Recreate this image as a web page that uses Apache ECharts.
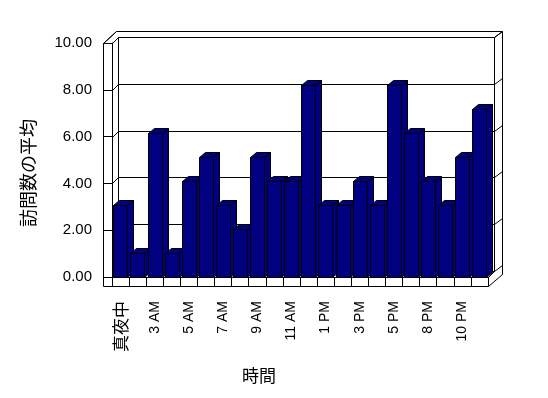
<!DOCTYPE html>
<html>
<head>
<meta charset="utf-8">
<script src="https://cdn.jsdelivr.net/npm/echarts@6/dist/echarts.min.js"></script>
<style>
  html, body { margin: 0; padding: 0; background: #fff; }
  #chart { width: 548px; height: 398px; }
</style>
</head>
<body>
<div id="chart"></div>
<script>
// hours that have data (1 AM and 7 PM are missing in the source)
const hours = ['真夜中', '2 AM', '3 AM', '4 AM', '5 AM', '6 AM', '7 AM', '8 AM', '9 AM', '10 AM', '11 AM', '正午',
  '1 PM', '2 PM', '3 PM', '4 PM', '5 PM', '6 PM', '8 PM', '9 PM', '10 PM', '11 PM'];
const avgVisits = [3, 1, 6, 1, 4, 5, 3, 2, 5, 4, 4, 8, 3, 3, 4, 3, 8, 6, 4, 3, 5, 7];
const yTicks = [0, 2, 4, 6, 8, 10];

// 3D look (pixels)
const DX = 6, DY = 6;     // back wall offset
const OX = 14, OY = 12;   // outer box offset
const SLAB = 9;           // wall / floor thickness
const BAR_DX = 6, BAR_DY = 5;
const BAR_COLOR = '#000080';
const LATIN = 'Liberation Sans';
const CJK = 'Noto Sans CJK JP';

const px = v => Math.round(v) + 0.5;
const lineStyle = { stroke: '#000', lineWidth: 1, fill: null };

function line(a, b) {
  return { type: 'line', shape: { x1: px(a[0]), y1: px(a[1]), x2: px(b[0]), y2: px(b[1]) }, style: lineStyle };
}

// box outline: walls and floor slab
function renderBox(params, api) {
  const cs = params.coordSys;
  const L = cs.x, T = cs.y, R = cs.x + cs.width, B = cs.y + cs.height, B2 = B + SLAB;
  const outer = [[L - SLAB, T], [L - SLAB + OX - 1, T - OY], [R + OX, T - OY], [R + OX, B2 - OY], [R, B2], [L - SLAB, B2]];
  return {
    type: 'group',
    children: [
      { type: 'polygon', shape: { points: outer.map(p => [px(p[0]), px(p[1])]) }, style: lineStyle },
      { type: 'rect', shape: { x: px(L + DX), y: px(T - DY), width: R - L, height: B - T }, style: lineStyle },
      line([L - SLAB, T], [L - SLAB + OX - 1, T - OY]),
      line([L, T], [L + DX, T - DY]),
      line([R + DX, T - DY], [R + OX, T - OY]),
      line([R, B], [R + DX, B - DY])
    ]
  };
}

// value grid lines on back wall + both side walls
function renderGridLine(params, api) {
  const cs = params.coordSys;
  const L = cs.x, R = cs.x + cs.width;
  const y = api.coord([0, api.value(1)])[1];
  return {
    type: 'group',
    children: [
      line([L + DX, y - DY], [R + DX, y - DY]),
      line([L, y], [L + DX, y - DY]),
      line([R + DX, y - DY], [R + OX, y - OY])
    ]
  };
}

function renderBar(params, api) {
  const i = api.value(0), v = api.value(1);
  const band = api.size([1, 0])[0];
  const base = api.coord([i, 0]);
  const top = api.coord([i, v]);
  const x0 = px(base[0] - band / 2 + band * 0.08);
  const w = Math.round(band * 0.82);
  const yb = px(base[1]), yt = px(top[1]);
  const style = { fill: BAR_COLOR, stroke: '#000', lineWidth: 1 };
  return {
    type: 'group',
    children: [
      { type: 'polygon', shape: { points: [[x0 + w, yt], [x0 + w + BAR_DX, yt - BAR_DY], [x0 + w + BAR_DX, yb - BAR_DY], [x0 + w, yb]] }, style: style },
      { type: 'polygon', shape: { points: [[x0, yt], [x0 + w, yt], [x0 + w + BAR_DX, yt - BAR_DY], [x0 + BAR_DX, yt - BAR_DY]] }, style: style },
      { type: 'rect', shape: { x: x0, y: yt, width: w, height: yb - yt }, style: style }
    ]
  };
}

const chart = echarts.init(document.getElementById('chart'));

const option = {
  backgroundColor: '#fff',
  animation: false,
  grid: [
    // front plane: axes, labels
    { left: 112, right: 60, top: 43, bottom: 121 },
    // bars reach a little higher (perspective)
    { left: 112, right: 60, top: 37, bottom: 121 }
  ],
  xAxis: [
    {
      type: 'category',
      gridIndex: 0,
      data: hours,
      axisLine: { show: true, lineStyle: { color: '#000', width: 1 } },
      axisTick: { show: true, interval: 0, length: SLAB, lineStyle: { color: '#000' } },
      axisLabel: {
        interval: 1,
        rotate: 90,
        margin: 24,
        color: '#000',
        fontFamily: LATIN,
        fontSize: 14,
        formatter: v => /[^\x00-\x7F]/.test(v) ? '{j|' + v + '}' : v,
        rich: { j: { fontFamily: CJK, fontSize: 17, color: '#000' } }
      },
      splitLine: { show: false }
    },
    {
      type: 'category',
      gridIndex: 1,
      data: hours,
      show: false
    }
  ],
  yAxis: [
    {
      type: 'value',
      gridIndex: 0,
      min: 0,
      max: 10,
      interval: 2,
      axisLine: { show: true, lineStyle: { color: '#000', width: 1 } },
      axisTick: { show: true, length: SLAB, lineStyle: { color: '#000' } },
      axisLabel: {
        margin: 20,
        color: '#000',
        fontFamily: LATIN,
        fontSize: 15,
        formatter: v => v.toFixed(2)
      },
      splitLine: { show: false }
    },
    {
      type: 'value',
      gridIndex: 1,
      min: 0,
      max: 10,
      interval: 2,
      show: false,
      splitLine: { show: false }
    }
  ],
  graphic: [
    {
      type: 'text',
      x: 28,
      y: 173,
      rotation: Math.PI / 2,
      style: { text: '訪問数の平均', font: '18px "' + CJK + '"', fill: '#000', align: 'center', verticalAlign: 'middle' }
    },
    {
      type: 'text',
      x: 259,
      y: 376,
      style: { text: '時間', font: '17px "' + CJK + '"', fill: '#000', align: 'center', verticalAlign: 'middle' }
    }
  ],
  series: [
    {
      name: 'box',
      type: 'custom',
      xAxisIndex: 0,
      yAxisIndex: 0,
      z: 1,
      silent: true,
      renderItem: renderBox,
      data: [[0, 0]]
    },
    {
      name: 'grid',
      type: 'custom',
      xAxisIndex: 0,
      yAxisIndex: 0,
      z: 1,
      silent: true,
      renderItem: renderGridLine,
      data: yTicks.map(v => [0, v])
    },
    {
      name: '訪問数の平均',
      type: 'custom',
      xAxisIndex: 1,
      yAxisIndex: 1,
      z: 3,
      renderItem: renderBar,
      data: avgVisits.map((v, i) => [i, v])
    }
  ]
};

chart.setOption(option);
window.addEventListener('resize', chart.resize);
</script>
</body>
</html>
